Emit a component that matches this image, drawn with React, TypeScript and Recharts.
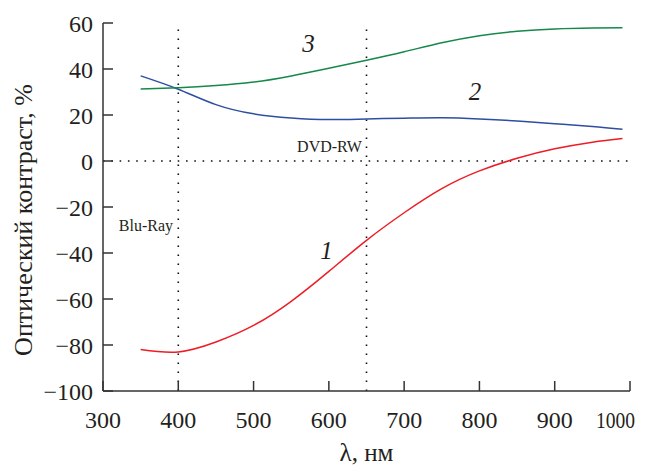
import React from "react"
import { LineChart, Line, XAxis, YAxis, ReferenceLine, ReferenceDot, Label } from "recharts"

// длина волны, нм
const wavelengths = [350, 400, 450, 500, 550, 600, 650, 700, 750, 800, 850, 900, 950, 990]
// оптический контраст, %
const curve1 = [-82, -83, -78.7, -71.5, -61, -48, -34.5, -22.5, -12, -4.3, 1.2, 5.3, 8.2, 9.8]
const curve2 = [37, 31.2, 24.5, 20.5, 18.7, 18, 18.3, 18.6, 18.8, 18.3, 17.4, 16.2, 15, 13.8]
const curve3 = [31.3, 31.9, 32.8, 34.3, 37, 40.3, 43.8, 47.5, 51.4, 54.5, 56.4, 57.4, 57.8, 57.9]

const xTicks = [300, 400, 500, 600, 700, 800, 900, 1000]
const yTicks = [-100, -80, -60, -40, -20, 0, 20, 40, 60]
const markers = [400, 650]

const data = wavelengths.map((w, i) => ({ w, c1: curve1[i], c2: curve2[i], c3: curve3[i] }))

const FONT = "'Liberation Serif', 'Times New Roman', serif"
const INK = "#231f20"
const TICK_FS = 24
const X_MARGIN = 20
const Y_MARGIN = 10
const TICK_LEN = 10

const fmt = (v: number) => String(v).replace("-", "\u2212")

function YTick(props: any) {
  const { x, y, payload } = props
  const ax = x + Y_MARGIN
  return (
    <g>
      <line x1={ax} x2={ax + TICK_LEN} y1={y} y2={y} stroke="#333" strokeWidth={1.5} />
      <text x={x} y={y} dy="0.355em" textAnchor="end" fontSize={TICK_FS} fontFamily={FONT} fill={INK}>
        {fmt(payload.value)}
      </text>
    </g>
  )
}

function XTick(props: any) {
  const { x, y, payload, index } = props
  const ay = y - X_MARGIN
  const last = index === xTicks.length - 1
  return (
    <g>
      <line x1={x} x2={x} y1={ay} y2={ay - TICK_LEN} stroke="#333" strokeWidth={1.5} />
      <text
        x={last ? x + 5 : x}
        y={y}
        dy="0.7em"
        textAnchor={last ? "end" : "middle"}
        fontSize={TICK_FS}
        fontFamily={FONT}
        fill={INK}
        {...(last ? { textLength: 39, lengthAdjust: "spacingAndGlyphs" } : {})}
      >
        {fmt(payload.value)}
      </text>
    </g>
  )
}

function YTitle(props: any) {
  const { viewBox } = props
  const x = viewBox.x + 32
  const y = viewBox.y + viewBox.height / 2 + 13
  return (
    <text x={x} y={y} transform={`rotate(-90, ${x}, ${y})`} textAnchor="middle" fontSize={26} fontFamily={FONT} fill={INK}>
      Оптический контраст, %
    </text>
  )
}

function XTitle(props: any) {
  const { viewBox } = props
  return (
    <text x={viewBox.x + viewBox.width / 2} y={viewBox.y + viewBox.height - 5} textAnchor="middle" fontSize={25} fontFamily={FONT} fill={INK}>
      λ, нм
    </text>
  )
}

const note = (text: string, italic: boolean, size: number, anchor: string) => (props: any) => {
  const { viewBox } = props
  return (
    <text
      x={viewBox.x}
      y={viewBox.y}
      dy="0.35em"
      textAnchor={anchor}
      fontSize={size}
      fontStyle={italic ? "italic" : "normal"}
      fontFamily={FONT}
      fill={INK}
    >
      {text}
    </text>
  )
}

export default function App() {
  return (
    <div style={{ position: "absolute", left: 0, top: 0, width: 648, height: 466, background: "#fff" }}>
      <LineChart width={648} height={466} data={data} margin={{ top: 23, right: 18, bottom: 0, left: 0 }}>
        <XAxis
          dataKey="w"
          type="number"
          domain={[300, 1000]}
          ticks={xTicks}
          height={75}
          tickSize={0}
          tickMargin={X_MARGIN}
          tick={<XTick />}
          axisLine={{ stroke: "#333", strokeWidth: 1.5 }}
          tickLine={false}
        >
          <Label content={<XTitle />} />
        </XAxis>
        <YAxis
          type="number"
          domain={[-100, 60]}
          ticks={yTicks}
          width={103}
          tickSize={0}
          tickMargin={Y_MARGIN}
          tick={<YTick />}
          axisLine={{ stroke: "#333", strokeWidth: 1.5 }}
          tickLine={false}
        >
          <Label content={<YTitle />} />
        </YAxis>
        <ReferenceLine y={0} stroke="#111" strokeWidth={1.6} strokeDasharray="1.6 6.7" />
        {markers.map((m) => (
          <ReferenceLine key={m} x={m} stroke="#111" strokeWidth={1.6} strokeDasharray="1.6 7.4" />
        ))}
        <Line dataKey="c1" type="natural" stroke="#ee1c25" strokeWidth={1.5} dot={false} isAnimationActive={false} />
        <Line dataKey="c2" type="natural" stroke="#2e4ea0" strokeWidth={1.5} dot={false} isAnimationActive={false} />
        <Line dataKey="c3" type="natural" stroke="#15884a" strokeWidth={1.5} dot={false} isAnimationActive={false} />
        <ReferenceDot x={573} y={51} r={0} label={note("3", true, 25, "middle")} />
        <ReferenceDot x={794} y={30.4} r={0} label={note("2", true, 25, "middle")} />
        <ReferenceDot x={597} y={-39} r={0} label={note("1", true, 25, "middle")} />
        <ReferenceDot x={393} y={-28} r={0} label={note("Blu-Ray", false, 16, "end")} />
        <ReferenceDot x={644} y={6.5} r={0} label={note("DVD-RW", false, 16, "end")} />
      </LineChart>
    </div>
  )
}
